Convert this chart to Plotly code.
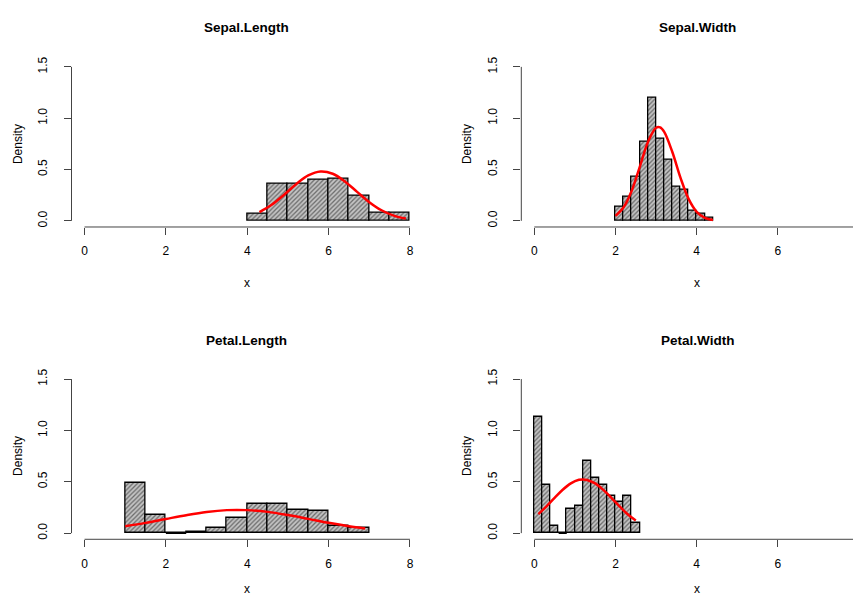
import plotly.graph_objects as go

# ---------------- data ----------------
titles = ["Sepal.Length", "Sepal.Width", "Petal.Length", "Petal.Width"]

sl_breaks = [4.0, 4.5, 5.0, 5.5, 6.0, 6.5, 7.0, 7.5, 8.0]
sl_density = [0.0667, 0.36, 0.36, 0.40, 0.4133, 0.24, 0.08, 0.08]
sl_curve_x = [4.3, 4.6, 4.9, 5.2, 5.5, 5.8, 6.1, 6.4, 6.7, 7.0, 7.3, 7.6, 7.9]
sl_curve_y = [0.085, 0.156, 0.252, 0.357, 0.442, 0.481, 0.459, 0.384, 0.282, 0.182, 0.103, 0.051, 0.022]

sw_breaks = [2.0, 2.2, 2.4, 2.6, 2.8, 3.0, 3.2, 3.4, 3.6, 3.8, 4.0, 4.2, 4.4]
sw_density = [0.133, 0.233, 0.433, 0.767, 1.2, 0.8, 0.6, 0.333, 0.3, 0.1, 0.067, 0.033]
sw_curve_x = [2.0, 2.2, 2.4, 2.6, 2.8, 3.0, 3.1, 3.2, 3.4, 3.6, 3.8, 4.0, 4.2, 4.4]
sw_curve_y = [0.048, 0.132, 0.294, 0.528, 0.769, 0.907, 0.911, 0.867, 0.671, 0.421, 0.214, 0.088, 0.029, 0.008]

pl_breaks = [1.0, 1.5, 2.0, 2.5, 3.0, 3.5, 4.0, 4.5, 5.0, 5.5, 6.0, 6.5, 7.0]
pl_density = [0.493, 0.173, 0.0, 0.013, 0.053, 0.147, 0.28, 0.28, 0.227, 0.213, 0.067, 0.053]
pl_curve_x = [1.0, 1.5, 2.0, 2.5, 3.0, 3.5, 4.0, 4.5, 5.0, 5.5, 6.0, 6.5, 6.9]
pl_curve_y = [0.067, 0.100, 0.138, 0.175, 0.206, 0.224, 0.224, 0.207, 0.176, 0.139, 0.101, 0.068, 0.046]

pw_breaks = [0.0, 0.2, 0.4, 0.6, 0.8, 1.0, 1.2, 1.4, 1.6, 1.8, 2.0, 2.2, 2.4, 2.6]
pw_density = [1.133, 0.467, 0.067, 0.0, 0.233, 0.267, 0.7, 0.533, 0.467, 0.367, 0.3, 0.367, 0.1]
pw_curve_x = [0.1, 0.3, 0.5, 0.7, 0.9, 1.1, 1.2, 1.3, 1.5, 1.7, 1.9, 2.1, 2.3, 2.5]
pw_curve_y = [0.185, 0.261, 0.343, 0.422, 0.484, 0.519, 0.523, 0.518, 0.484, 0.421, 0.343, 0.260, 0.184, 0.122]

left_xticks = [0, 2, 4, 6, 8]
right_xticks = [0, 2, 4, 6]
yticks = [0.0, 0.5, 1.0, 1.5]
ytick_text = ["0.0", "0.5", "1.0", "1.5"]

panels = [
    (sl_breaks, sl_density, sl_curve_x, sl_curve_y),
    (sw_breaks, sw_density, sw_curve_x, sw_curve_y),
    (pl_breaks, pl_density, pl_curve_x, pl_curve_y),
    (pw_breaks, pw_density, pw_curve_x, pw_curve_y),
]

# ---------------- layout geometry ----------------
W, H = 853, 598
FONT = "Liberation Sans, Arial, Helvetica, sans-serif"
AXC = "#444444"

xdom_left = [71.5 / W, 423.0 / W]
xdom_right = [521.3 / W, 1.0]
ydom_top = [1 - 224.5 / H, 1 - 57.1 / H]
ydom_bot = [1 - 538.9 / H, 1 - 371.4 / H]

xr_left = [-0.32, 8.32]
xr_right = [-0.32, 7.85]
yr = [-0.06, 1.56]

cfg = [
    (xdom_left, ydom_top, xr_left, left_xticks),
    (xdom_right, ydom_top, xr_right, right_xticks),
    (xdom_left, ydom_bot, xr_left, left_xticks),
    (xdom_right, ydom_bot, xr_right, right_xticks),
]

fig = go.Figure()
layout = dict(
    width=W, height=H,
    margin=dict(l=0, r=0, t=0, b=0),
    paper_bgcolor="white", plot_bgcolor="white",
    showlegend=False,
    font=dict(family=FONT, size=12, color="black"),
    bargap=0,
)

shapes = []
annotations = []

for i, ((brk, dens, cx, cy), (xd, yd, xr, xt)) in enumerate(zip(panels, cfg)):
    n = i + 1
    xa = "x" if n == 1 else f"x{n}"
    ya = "y" if n == 1 else f"y{n}"
    mids = [(a + b) / 2 for a, b in zip(brk[:-1], brk[1:])]
    widths = [b - a for a, b in zip(brk[:-1], brk[1:])]
    fig.add_trace(go.Bar(
        x=mids, y=dens, width=widths,
        xaxis=xa, yaxis=ya,
        marker=dict(
            color="#b8b8b8",
            pattern=dict(shape="/", fgcolor="#111111", bgcolor="#c4c4c4",
                         size=3.2, solidity=0.4, fillmode="overlay"),
            line=dict(color="black", width=1.3),
        ),
        hoverinfo="skip",
    ))
    # zero-height bins still show their outline on the baseline (as in R)
    zero_x = [m for m, d in zip(mids, dens) if d == 0]
    zero_w = [w for w, d in zip(widths, dens) if d == 0]
    for zx, zw in zip(zero_x, zero_w):
        shapes.append(dict(type="line", xref=xa, yref=ya,
                           x0=zx - zw / 2, x1=zx + zw / 2, y0=0, y1=0,
                           line=dict(color="black", width=1.6)))
    fig.add_trace(go.Scatter(
        x=cx, y=cy, mode="lines", xaxis=xa, yaxis=ya,
        line=dict(color="#ff0000", width=2.5, shape="spline", smoothing=1.0),
        hoverinfo="skip",
    ))

    xkey = "xaxis" if n == 1 else f"xaxis{n}"
    ykey = "yaxis" if n == 1 else f"yaxis{n}"
    layout[xkey] = dict(
        domain=xd, range=xr, anchor=ya, showgrid=False, zeroline=False,
        showline=False, tickmode="array", tickvals=xt,
        ticktext=[str(v) for v in xt],
        ticks="outside", ticklen=7, tickwidth=1, tickcolor=AXC,
        tickfont=dict(size=12, family=FONT, color="black"),
        ticklabelstandoff=6, fixedrange=True,
    )
    layout[ykey] = dict(
        domain=yd, range=yr, anchor=xa, showgrid=False, zeroline=False,
        showline=False, tickmode="array", tickvals=yticks, ticktext=ytick_text,
        ticks="outside", ticklen=7, tickwidth=1, tickcolor=AXC,
        tickangle=-90,
        tickfont=dict(size=12, family=FONT, color="black"),
        ticklabelstandoff=12, fixedrange=True,
    )

    # R-style axis lines spanning only the tick range
    shapes.append(dict(type="line", xref=f"{xa} domain", yref=ya,
                       x0=0, x1=0, y0=yticks[0], y1=yticks[-1],
                       line=dict(color=AXC, width=1)))
    shapes.append(dict(type="line", xref=xa, yref=f"{ya} domain",
                       x0=xt[0], x1=(8 if n in (1, 3) else xr[1]), y0=0, y1=0,
                       line=dict(color=AXC, width=1)))

    # titles and axis labels
    is_left = n in (1, 3)
    is_top = n in (1, 2)
    cx_pix = 247 if is_left else 697
    title_y = 24 if is_top else 339
    xlab_y = 281 if is_top else 589
    dens_x = 18 if is_left else 467
    dens_y = 141 if is_top else 455
    annotations.append(dict(text=f"<b>{titles[i]}</b>", xref="paper", yref="paper",
                            x=cx_pix / W, y=1 - title_y / H, showarrow=False,
                            xanchor="center", yanchor="middle",
                            font=dict(size=13.5, family=FONT, color="black")))
    annotations.append(dict(text="x", xref="paper", yref="paper",
                            x=cx_pix / W, y=1 - xlab_y / H, showarrow=False,
                            xanchor="center", yanchor="middle",
                            font=dict(size=12, family=FONT, color="black")))
    annotations.append(dict(text="Density", xref="paper", yref="paper",
                            x=dens_x / W, y=1 - dens_y / H, showarrow=False,
                            textangle=-90, xanchor="center", yanchor="middle",
                            font=dict(size=12, family=FONT, color="black")))

layout["shapes"] = shapes
layout["annotations"] = annotations
fig.update_layout(**layout)

fig.write_html("out.html")
